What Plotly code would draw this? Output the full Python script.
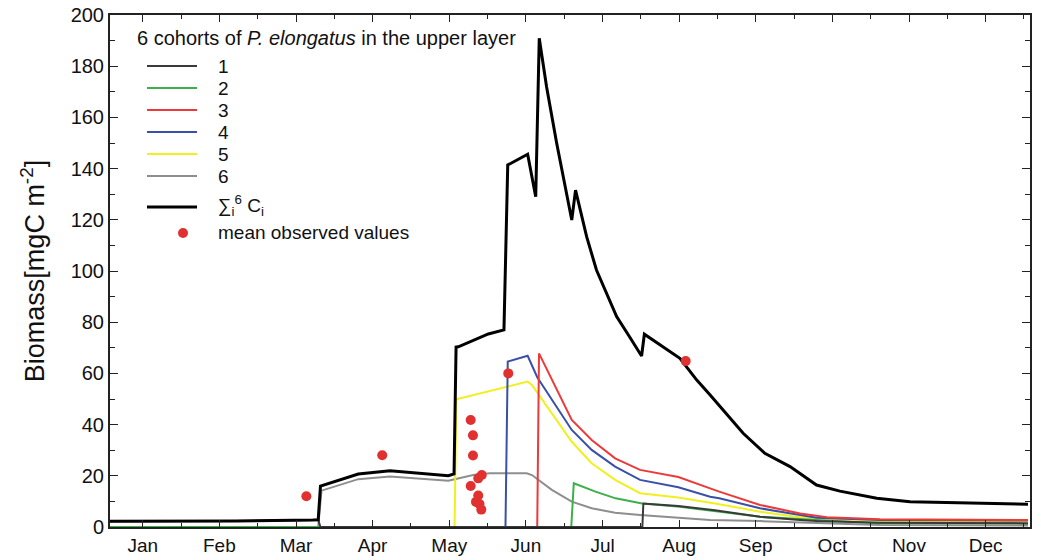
import plotly.graph_objects as go

# ---- data (x = day of year, y = biomass mgC m^-2) ----
total_x = [0, 50, 80.5, 82.6, 83.5, 98.5, 111.1, 134.2, 136.5, 137.3, 138.2, 150.1, 156.3,
           157.8, 165.7, 168.9, 170.3, 173.2, 177.2, 180.5, 183.2, 184.7, 189.1, 193.0, 197.0,
           201.0, 206.3, 210.9, 212.0, 226.1, 232.8, 238.1, 251.2, 259.8, 269.8, 280.3, 289.6,
           304.2, 317.4, 333.2, 346.3, 364.2]
total_y = [2.2, 2.3, 2.7, 2.8, 16.0, 20.7, 22.0, 20.0, 20.7, 70.3, 70.4, 75.4, 77.0,
           141.4, 145.6, 129.0, 190.9, 172.0, 150.0, 133.0, 119.9, 131.6, 113.4, 100.4, 91.4,
           82.2, 74.0, 66.8, 75.3, 65.9, 57.4, 51.6, 36.6, 28.8, 23.6, 16.4, 14.0,
           11.2, 9.9, 9.5, 9.3, 8.9]

c1_x = [0, 50, 80.5, 82.6, 83.5, 211.2, 211.6, 225.5, 240.0, 257.9, 273.8, 280.4, 305.5, 364.2]
c1_y = [2.2, 2.3, 2.7, 2.8, 0.0, 0.0, 9.2, 8.2, 6.5, 4.0, 2.7, 2.3, 1.7, 1.4]

c2_x = [0, 183.0, 184.0, 192.6, 200.6, 211.1, 226.1, 257.9, 280.4, 305.5, 364.2]
c2_y = [0, 0, 17.1, 13.8, 11.2, 9.2, 7.9, 4.0, 2.7, 1.5, 1.5]

c3_x = [0, 169.5, 170.2, 175.3, 183.2, 191.1, 200.4, 210.3, 225.5, 238.1, 241.7, 257.9,
        273.8, 284.4, 305.5, 364.2]
c3_y = [0, 0, 67.8, 57.4, 41.8, 34.0, 26.8, 22.3, 19.5, 15.1, 13.8, 8.6,
        5.3, 3.8, 3.0, 2.7]

c4_x = [0, 156.9, 157.8, 165.7, 169.5, 175.3, 183.2, 191.1, 200.4, 210.3, 225.5, 238.1,
        241.7, 257.9, 273.8, 280.4, 305.5, 364.2]
c4_y = [0, 0, 64.6, 66.9, 58.5, 49.6, 37.9, 30.1, 23.6, 18.4, 15.5, 11.8,
        11.2, 7.3, 4.7, 3.6, 2.7, 2.5]

c5_x = [0, 136.7, 137.4, 165.7, 167.4, 175.3, 183.2, 191.1, 200.4, 210.3, 225.5, 240.1,
        257.9, 273.8, 280.4, 300.2, 305.5, 364.2]
c5_y = [0, 0, 49.9, 56.8, 55.5, 44.4, 33.3, 24.9, 18.4, 13.2, 11.5, 9.2,
        6.0, 3.8, 3.4, 2.7, 2.2, 2.1]

c6_x = [0, 82.6, 83.9, 98.5, 111.1, 134.2, 144.1, 150.7, 165.3, 167.4, 175.3, 183.2, 191.1,
        200.4, 210.3, 224.9, 238.1, 257.9, 305.5, 364.2]
c6_y = [0, 0, 14.2, 18.7, 19.7, 18.1, 20.3, 21.0, 21.0, 20.3, 14.5, 9.9, 7.3,
        5.6, 4.7, 3.8, 2.7, 2.3, 0.8, 0.6]

obs_x = [77.9, 108.0, 143.1, 144.0, 144.0, 147.5, 146.1, 143.1, 146.1, 145.2, 146.6, 147.3, 158.0, 228.4]
obs_y = [12.0, 28.0, 41.8, 35.8, 27.9, 20.3, 19.0, 16.0, 12.3, 9.8, 9.0, 6.8, 60.0, 64.8]

month_labels = ["Jan", "Feb", "Mar", "Apr", "May", "Jun", "Jul", "Aug", "Sep", "Oct", "Nov", "Dec"]
month_ticks = [13.0 + 30.4 * i for i in range(12)]

cohort_names = ["1", "2", "3", "4", "5", "6"]
cohort_colors = ["#3a3a3a", "#3db04a", "#ec3a3a", "#3850a8", "#f2ef1e", "#8e8e8e"]
total_name = "∑<sub>i</sub><sup>6</sup> C<sub>i</sub>"
obs_name = "mean observed values"
legend_title = "6 cohorts of <i>P. elongatus</i> in the upper layer"

# ---- layout geometry (pixels) ----
W, H = 1041, 560
L, R, T, B = 110, 11, 15, 33
PW, PH = W - L - R, H - T - B


def px(xp):
    return (xp - L) / PW


def py(yp):
    return (H - B - yp) / PH


font_family = "Liberation Sans, Arial, Helvetica, sans-serif"

# ---- figure ----
fig = go.Figure()
cohorts = [(c1_x, c1_y), (c2_x, c2_y), (c3_x, c3_y), (c4_x, c4_y), (c5_x, c5_y), (c6_x, c6_y)]
# draw cohort 6 first so that cohort 1 ends up on top (as in the reference)
for (xs, ys), name, col in reversed(list(zip(cohorts, cohort_names, cohort_colors))):
    fig.add_trace(go.Scatter(x=xs, y=ys, mode="lines", name=name,
                             line=dict(color=col, width=2)))

fig.add_trace(go.Scatter(x=total_x, y=total_y, mode="lines", name=total_name,
                         line=dict(color="#000000", width=3)))
fig.add_trace(go.Scatter(x=obs_x, y=obs_y, mode="markers", name=obs_name,
                         marker=dict(color="#e03030", size=10)))

# ---- manual legend (matches reference spacing) ----
annotations = [dict(xref="paper", yref="paper", x=px(135), y=py(38), xanchor="left",
                    yanchor="middle", showarrow=False, text=legend_title,
                    font=dict(size=20, family=font_family, color="#111"))]
shapes = []
row_y = [66, 88, 110, 132, 154, 176]
for yy, name, col in zip(row_y, cohort_names, cohort_colors):
    shapes.append(dict(type="line", xref="paper", yref="paper", x0=px(147), x1=px(197),
                       y0=py(yy), y1=py(yy), line=dict(color=col, width=2)))
    annotations.append(dict(xref="paper", yref="paper", x=px(216), y=py(yy), xanchor="left",
                            yanchor="middle", showarrow=False, text=name,
                            font=dict(size=19, family=font_family, color="#111")))
shapes.append(dict(type="line", xref="paper", yref="paper", x0=px(147), x1=px(197),
                   y0=py(207), y1=py(207), line=dict(color="#000", width=3)))
annotations.append(dict(xref="paper", yref="paper", x=px(216), y=py(205), xanchor="left",
                        yanchor="middle", showarrow=False, text=total_name,
                        font=dict(size=19, family=font_family, color="#111")))
shapes.append(dict(type="circle", xref="paper", yref="paper", xsizemode="pixel",
                   ysizemode="pixel", xanchor=px(183), yanchor=py(233), x0=-5, x1=5,
                   y0=-5, y1=5, fillcolor="#e03030", line=dict(width=0)))
annotations.append(dict(xref="paper", yref="paper", x=px(216), y=py(232), xanchor="left",
                        yanchor="middle", showarrow=False, text=obs_name,
                        font=dict(size=19, family=font_family, color="#111")))

fig.update_layout(
    width=W, height=H,
    margin=dict(l=L, r=R, t=T, b=B),
    paper_bgcolor="white", plot_bgcolor="white",
    font=dict(family=font_family, color="#111111"),
    showlegend=False,
    annotations=annotations,
    shapes=shapes,
    xaxis=dict(
        range=[0, 365], tickmode="array", tickvals=month_ticks, ticktext=month_labels,
        ticks="inside", ticklen=7, tickwidth=1.3, tickcolor="#222",
        showline=True, linecolor="#222", linewidth=2, mirror="allticks",
        showgrid=False, zeroline=False, automargin=False,
        tickfont=dict(size=19, family=font_family),
        minor=dict(tickmode="linear", tick0=13.0 - 15.2, dtick=15.2,
                   ticks="inside", ticklen=4, tickcolor="#222", showgrid=False),
    ),
    yaxis=dict(
        range=[0, 200], tickmode="linear", tick0=0, dtick=20,
        ticks="inside", ticklen=8, tickwidth=1.3, tickcolor="#222",
        showline=True, linecolor="#222", linewidth=2, mirror="allticks",
        showgrid=False, zeroline=False, automargin=False,
        tickfont=dict(size=20, family=font_family),
        minor=dict(dtick=10, ticks="inside", ticklen=5, tickcolor="#222", showgrid=False),
        title=dict(text="Biomass[mgC m<sup>-2</sup>]", font=dict(size=27, family=font_family),
                   standoff=18),
    ),
)

fig.write_html("out.html")
